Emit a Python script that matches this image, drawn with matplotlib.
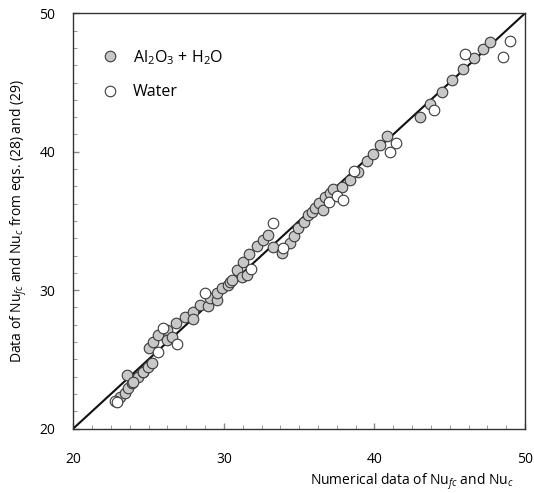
import matplotlib
matplotlib.use("Agg")
import matplotlib.pyplot as plt
from matplotlib.ticker import MultipleLocator, FixedLocator
from matplotlib.lines import Line2D

plt.rcParams['font.family'] = ['Open Sans', 'DejaVu Sans']
plt.rcParams['mathtext.fontset'] = 'custom'
plt.rcParams['mathtext.rm'] = 'Open Sans'
plt.rcParams['mathtext.it'] = 'Open Sans:italic'

# Al2O3 + H2O nanofluid points (numerical, correlation)
al_x = [22.9, 23.1, 23.43, 23.65, 23.88, 23.55, 24.32, 24.63, 23.98, 24.65, 24.98, 25.21,
        25.05, 25.31, 25.64, 26.20, 26.20, 26.53, 26.82, 27.42, 27.97, 27.97, 28.41, 28.96,
        29.08, 29.52, 29.52, 29.85, 30.29, 30.41, 30.52, 30.85, 31.18, 31.51, 31.25, 31.69,
        32.18, 32.58, 32.95, 33.28, 33.84, 34.39, 34.65, 34.94, 35.32, 35.60, 35.83, 36.05,
        36.33, 36.60, 36.71, 37.04, 37.22, 37.82, 38.37, 38.9, 39.5, 39.9, 40.37, 40.81,
        43.02, 43.68, 44.46, 45.13, 45.86, 46.63, 47.22, 47.67]
al_y = [22.0, 22.30, 22.54, 22.90, 23.27, 23.87, 23.74, 24.08, 23.38, 24.10, 24.42, 24.75,
        25.79, 26.27, 26.76, 27.12, 26.39, 26.63, 27.64, 28.03, 28.44, 27.89, 28.92, 28.85,
        29.41, 29.28, 29.77, 30.13, 30.37, 30.61, 30.73, 31.45, 30.97, 31.09, 32.05, 32.61,
        33.19, 33.62, 33.98, 33.14, 32.66, 33.43, 33.91, 34.47, 34.94, 35.43, 35.66, 35.91,
        36.27, 35.79, 36.75, 36.99, 37.28, 37.47, 37.95, 38.5, 39.3, 39.8, 40.48, 41.13,
        42.53, 43.45, 44.34, 45.18, 45.95, 46.75, 47.40, 47.95]

# Water points
w_x = [22.77, 22.88, 25.64, 25.98, 26.87, 28.75, 31.78, 33.28, 33.94, 37.00, 37.53,
       37.93, 38.67, 41.04, 41.44, 43.95, 46.01, 48.55, 49.0]
w_y = [22.01, 21.94, 25.55, 27.24, 26.11, 29.77, 31.50, 34.83, 33.02, 36.39, 36.80,
       36.51, 38.6, 40.0, 40.65, 43.01, 47.06, 46.86, 48.02]

line_ends = [20, 50]
major_ticks = [20, 30, 40, 50]

fig = plt.figure(figsize=(5.34, 4.93), dpi=100)
ax = fig.add_axes([0.1373, 0.1308, 0.8458, 0.8422])

ax.plot(line_ends, line_ends, color='#111111', lw=1.5, zorder=2)
ax.scatter(al_x, al_y, s=58, facecolor='#c8c8c8', edgecolor='#3a3a3a', lw=0.8, zorder=3)
ax.scatter(w_x, w_y, s=58, facecolor='white', edgecolor='#3a3a3a', lw=0.8, zorder=3)

ax.set_xlim(20, 50)
ax.set_ylim(20, 50)
ax.xaxis.set_major_locator(FixedLocator(major_ticks))
ax.yaxis.set_major_locator(FixedLocator(major_ticks))
ax.xaxis.set_minor_locator(MultipleLocator(1.25))
ax.yaxis.set_minor_locator(MultipleLocator(1.25))
ax.tick_params(which='both', direction='in', top=False, right=False, color='#888888')
ax.tick_params(which='major', length=4, width=1.0, labelsize=10, pad=17)
ax.tick_params(which='minor', length=3, width=0.6)
ax.tick_params(axis='y', which='major', pad=13)
for s in ax.spines.values():
    s.set_color('#333333')
    s.set_linewidth(1.0)

fig.text(411.5 / 534, 1 - 481.7 / 493, r'Numerical data of Nu$_{\mathit{fc}}$ and Nu$_{c}$',
         ha='center', va='center', fontsize=10)
fig.text(19 / 534, 1 - 221 / 493, r'Data of Nu$_{\mathit{fc}}$ and Nu$_{c}$ from eqs. (28) and (29)',
         ha='center', va='center', rotation=90, fontsize=10)

handles = [Line2D([], [], ls='none', marker='o', ms=7.6, mfc='#c8c8c8', mec='#3a3a3a', mew=0.8),
           Line2D([], [], ls='none', marker='o', ms=7.6, mfc='white', mec='#3a3a3a', mew=0.8)]
ax.legend(handles, [r'Al$_2$O$_3$ + H$_2$O', 'Water'], loc='upper left',
          bbox_to_anchor=(0.054, 0.932), frameon=False, fontsize=11.5,
          handlelength=0.8, handletextpad=1.0, labelspacing=1.1, borderaxespad=0)

fig.savefig('out.png', dpi=100)
